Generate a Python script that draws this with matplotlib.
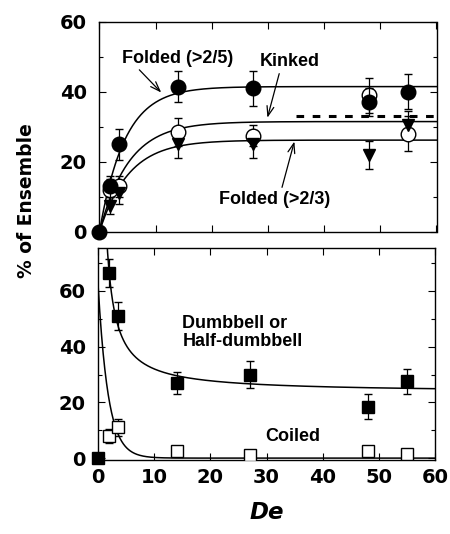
import matplotlib.pyplot as plt
import numpy as np

plt.rcParams['font.family'] = ['DejaVu Sans']
plt.rcParams['font.weight'] = 'bold'

# top panel data
de_top = [0, 1.8, 3.5, 14, 27.3, 48, 55]
folded25 = [0, 13, 25, 41.5, 41, 37, 40]
folded25_err = [0, 3, 4.5, 4.5, 5, 4, 5]
kinked = [0, 12, 13, 28.5, 27.5, 39, 28]
kinked_err = [0, 3, 3, 4, 3, 5, 5]
folded23 = [0, 7.5, 11, 25, 25, 22, 30.5]
folded23_err = [0, 2.5, 3, 4, 4, 4, 4]
dashed_x = [35, 60]
dashed_y = [33, 33]

# bottom panel data
de_bot = [0, 2, 3.5, 14, 27, 48, 55]
dumbbell = [0, 66.5, 51, 27, 30, 18.5, 27.5]
dumbbell_err = [0, 5, 5, 4, 5, 4.5, 4.5]
coiled = [None, 8, 11, 2.5, 1, 2.5, 1.5]
coiled_err = [0, 2.5, 3, 0.5, 0.5, 0.5, 0.5]

# fitted curve parameters
fit_folded25 = (41.5, 4.5)    # plateau, tau
fit_kinked = (31.5, 5.2)
fit_folded23 = (26.2, 5.2)
fit_dumbbell = (23.5, 85.0)   # plateau + k/x
fit_coiled = (62.0, 1.8)      # a*exp(-x/tau)

label_font = dict(family='Liberation Sans', fontsize=13, fontweight='bold')

fig = plt.figure(figsize=(4.5, 5.34), dpi=100)
ax1 = fig.add_axes([0.221, 0.566, 0.749, 0.393])
ax2 = fig.add_axes([0.218, 0.139, 0.749, 0.397])

xs = np.linspace(0, 60, 600)
for A, tau in (fit_folded25, fit_kinked, fit_folded23):
    ax1.plot(xs, A * (1 - np.exp(-xs / tau)), color='black', lw=1.1)

ax1.errorbar(de_top, folded25, yerr=folded25_err, fmt='o', color='black',
             ms=10.5, capsize=3, elinewidth=0.9, clip_on=False, zorder=4)
ax1.errorbar(de_top[1:], kinked[1:], yerr=kinked_err[1:], fmt='o', mfc='white',
             mec='black', color='black', ms=10.5, mew=1, capsize=3, elinewidth=0.9, zorder=3)
ax1.errorbar(de_top[1:], folded23[1:], yerr=folded23_err[1:], fmt='v', color='black',
             ms=9, capsize=3, elinewidth=0.9, zorder=3)
ax1.plot(dashed_x, dashed_y, color='black', lw=2.2, ls=(0, (2.5, 2.8)))

arrow = dict(arrowstyle='->,head_length=0.7,head_width=0.25', color='black', lw=0.9,
             shrinkA=0, shrinkB=0)
ax1.text(13.9, 49.5, 'Folded (>2/5)', ha='center', va='center', **label_font)
ax1.annotate('', xy=(11, 39.8), xytext=(7.1, 46.3), arrowprops=arrow)
ax1.text(33.8, 48.8, 'Kinked', ha='center', va='center', **label_font)
ax1.annotate('', xy=(29.9, 32.6), xytext=(32, 45.2), arrowprops=arrow)
ax1.text(31.1, 9.2, 'Folded (>2/3)', ha='center', va='center', **label_font)
ax1.annotate('', xy=(34.7, 25.8), xytext=(32.5, 12.7), arrowprops=arrow)

ax1.set_xlim(0, 60)
ax1.set_ylim(0, 60)
ax1.set_yticks([0, 20, 40, 60])
ax1.set_yticks([10, 30, 50], minor=True)
ax1.set_xticks(range(0, 61, 10))
ax1.tick_params(labelbottom=False)

xb = np.linspace(0.5, 60, 800)
ax2.plot(xb, fit_dumbbell[0] + fit_dumbbell[1] / xb, color='black', lw=1.1)
xc = np.linspace(0, 60, 600)
ax2.plot(xc, fit_coiled[0] * np.exp(-xc / fit_coiled[1]), color='black', lw=1.1)

ax2.errorbar(de_bot, dumbbell, yerr=dumbbell_err, fmt='s', color='black',
             ms=8, capsize=3, elinewidth=0.9, clip_on=False, zorder=4)
ax2.errorbar(de_bot[1:], coiled[1:], yerr=coiled_err[1:], fmt='s', mfc='white',
             mec='black', color='black', ms=8, mew=1, capsize=3, elinewidth=0.9, zorder=3)

ax2.text(15, 45, 'Dumbbell or\nHalf-dumbbell', ha='left', va='center',
         linespacing=1.05, **label_font)
ax2.text(34.6, 7.8, 'Coiled', ha='center', va='center', **label_font)

ax2.set_xlim(0, 60)
ax2.set_ylim(-0.6, 75.5)
ax2.set_yticks([0, 20, 40, 60])
ax2.set_yticks([10, 30, 50, 70], minor=True)
ax2.set_xticks(range(0, 61, 10))
ax2.set_xlabel('De', fontsize=16.5, fontstyle='italic', fontweight='bold', labelpad=10)

for ax in (ax1, ax2):
    ax.tick_params(which='both', direction='in', top=True, right=True, width=0.8)
    ax.tick_params(which='major', length=5, labelsize=14)
    ax.tick_params(axis='x', pad=6)
    ax.tick_params(axis='y', pad=9)
    ax.tick_params(which='minor', length=3)
    for lab in ax.get_xticklabels() + ax.get_yticklabels():
        lab.set_fontweight('bold')
    for sp in ax.spines.values():
        sp.set_linewidth(1.0)

fig.text(0.058, 0.624, '% of Ensemble', rotation=90, ha='center', va='center',
         fontsize=13.5, fontweight='bold')

plt.savefig('out.png', dpi=100)
